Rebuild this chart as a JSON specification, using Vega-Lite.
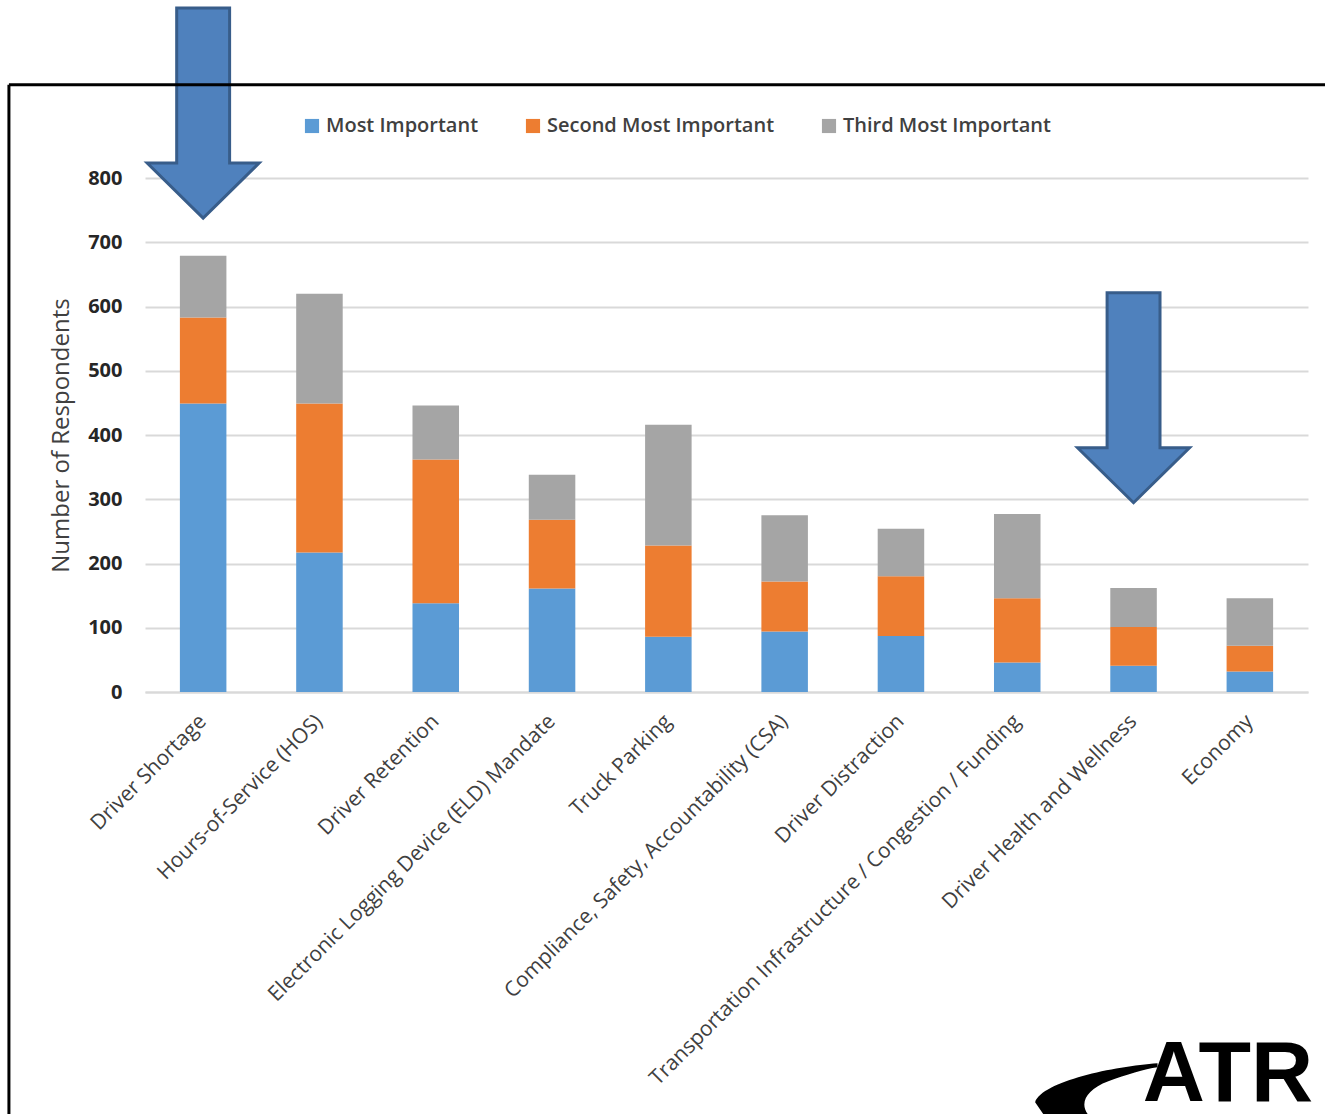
{
  "$schema": "https://vega.github.io/schema/vega-lite/v6.json",
  "width": 1163,
  "height": 514,
  "autosize": {"type": "none"},
  "padding": {"left": 145, "top": 178, "right": 17, "bottom": 422},
  "background": "white",
  "config": {"view": {"stroke": null}, "font": "Open Sans"},
  "datasets": {
    "bars": [
      {"Issue": "Driver Shortage", "Priority": "Most Important", "Respondents": 449},
      {"Issue": "Driver Shortage", "Priority": "Second Most Important", "Respondents": 134},
      {"Issue": "Driver Shortage", "Priority": "Third Most Important", "Respondents": 96},
      {"Issue": "Hours-of-Service (HOS)", "Priority": "Most Important", "Respondents": 217},
      {"Issue": "Hours-of-Service (HOS)", "Priority": "Second Most Important", "Respondents": 232},
      {"Issue": "Hours-of-Service (HOS)", "Priority": "Third Most Important", "Respondents": 171},
      {"Issue": "Driver Retention", "Priority": "Most Important", "Respondents": 138},
      {"Issue": "Driver Retention", "Priority": "Second Most Important", "Respondents": 224},
      {"Issue": "Driver Retention", "Priority": "Third Most Important", "Respondents": 84},
      {"Issue": "Electronic Logging Device (ELD) Mandate", "Priority": "Most Important", "Respondents": 161},
      {"Issue": "Electronic Logging Device (ELD) Mandate", "Priority": "Second Most Important", "Respondents": 107},
      {"Issue": "Electronic Logging Device (ELD) Mandate", "Priority": "Third Most Important", "Respondents": 70},
      {"Issue": "Truck Parking", "Priority": "Most Important", "Respondents": 86},
      {"Issue": "Truck Parking", "Priority": "Second Most Important", "Respondents": 142},
      {"Issue": "Truck Parking", "Priority": "Third Most Important", "Respondents": 188},
      {"Issue": "Compliance, Safety, Accountability (CSA)", "Priority": "Most Important", "Respondents": 94},
      {"Issue": "Compliance, Safety, Accountability (CSA)", "Priority": "Second Most Important", "Respondents": 78},
      {"Issue": "Compliance, Safety, Accountability (CSA)", "Priority": "Third Most Important", "Respondents": 103},
      {"Issue": "Driver Distraction", "Priority": "Most Important", "Respondents": 87},
      {"Issue": "Driver Distraction", "Priority": "Second Most Important", "Respondents": 93},
      {"Issue": "Driver Distraction", "Priority": "Third Most Important", "Respondents": 74},
      {"Issue": "Transportation Infrastructure / Congestion / Funding", "Priority": "Most Important", "Respondents": 46},
      {"Issue": "Transportation Infrastructure / Congestion / Funding", "Priority": "Second Most Important", "Respondents": 100},
      {"Issue": "Transportation Infrastructure / Congestion / Funding", "Priority": "Third Most Important", "Respondents": 131},
      {"Issue": "Driver Health and Wellness", "Priority": "Most Important", "Respondents": 41},
      {"Issue": "Driver Health and Wellness", "Priority": "Second Most Important", "Respondents": 60},
      {"Issue": "Driver Health and Wellness", "Priority": "Third Most Important", "Respondents": 61},
      {"Issue": "Economy", "Priority": "Most Important", "Respondents": 32},
      {"Issue": "Economy", "Priority": "Second Most Important", "Respondents": 40},
      {"Issue": "Economy", "Priority": "Third Most Important", "Respondents": 74}
    ],
    "arrows": [
      {"Issue": "Driver Shortage", "y": 901},
      {"Issue": "Driver Health and Wellness", "y": 458}
    ],
    "frame": [
      {"x": -0.117, "x2": 1.03, "y": 945, "y2": 945},
      {"x": -0.117, "x2": -0.117, "y": 945, "y2": -720}
    ],
    "logo": [{"x": 0.858, "y": -637, "text": "ATR"}],
    "swoosh": [{"x": 0.818, "y": -615}]
  },
  "layer": [
    {
      "layer": [
        {
          "data": {"name": "bars"},
          "mark": {"type": "bar"},
          "encoding": {
            "x": {
              "field": "Issue", "type": "nominal", "sort": null,
              "scale": {"paddingInner": 0.6, "paddingOuter": 0.3},
              "axis": {
                "title": null, "labelAngle": -45, "labelFontSize": 21, "labelColor": "#404040",
                "labelAlign": "right", "labelBaseline": "middle",
                "domainColor": "#D9D9D9", "domainWidth": 2, "ticks": false, "labelPadding": 26, "labelLimit": 1000
              }
            },
            "y": {
              "field": "Respondents", "type": "quantitative", "stack": "zero",
              "scale": {"domain": [0, 800], "nice": false},
              "axis": {
                "title": "Number of Respondents", "titleFontSize": 24, "titleFontWeight": "normal", "titleColor": "#404040",
                "titlePadding": 14, "values": [0, 100, 200, 300, 400, 500, 600, 700, 800],
                "labelFontSize": 20, "labelFontWeight": "bold", "labelColor": "#262626", "labelPadding": 23,
                "ticks": false, "domain": false, "gridColor": "#D9D9D9", "gridWidth": 2
              }
            },
            "color": {
              "field": "Priority", "type": "nominal",
              "scale": {"domain": ["Most Important", "Second Most Important", "Third Most Important"], "range": ["#5B9BD5", "#ED7D31", "#A5A5A5"]},
              "legend": {
                "orient": "none", "legendX": 157, "legendY": -62, "direction": "horizontal", "title": null,
                "symbolType": "square", "symbolSize": 200, "symbolStrokeWidth": 0, "labelFontSize": 20, "labelFontWeight": 600,
                "labelColor": "#404040", "columnPadding": 44, "labelOffset": 4, "labelLimit": 1000
              }
            },
            "order": {"field": "Priority", "type": "ordinal", "sort": "ascending"}
          }
        },
        {
          "data": {"name": "arrows"},
          "mark": {"type": "point", "shape": "M-0.252,-1 L0.252,-1 L0.252,0.476 L0.533,0.476 L0,1 L-0.533,0.476 L-0.252,0.476 Z", "size": 44100, "filled": true, "fill": "#4F81BD", "stroke": "#385D8A", "strokeWidth": 3, "opacity": 1},
          "encoding": {
            "x": {"field": "Issue", "type": "nominal", "sort": null},
            "y": {"field": "y", "type": "quantitative", "scale": {"domain": [0, 800], "nice": false}}
          }
        }
      ]
    },
    {
      "layer": [
        {
          "data": {"name": "frame"},
          "mark": {"type": "rule", "color": "black", "strokeWidth": 3},
          "encoding": {
            "x": {"field": "x", "type": "quantitative", "scale": {"domain": [0, 1], "nice": false, "zero": false}, "axis": null},
            "x2": {"field": "x2"},
            "y": {"field": "y", "type": "quantitative", "scale": {"domain": [0, 800], "nice": false}},
            "y2": {"field": "y2"}
          }
        },
        {
          "data": {"name": "swoosh"},
          "mark": {"type": "point", "shape": "M1.02,-0.4 C0.3,-0.35 -0.9,-0.1 -1.02,0.25 L-0.85,0.5 L-0.1,0.5 C-0.3,0.3 -0.2,0.05 0.2,-0.1 C0.5,-0.2 0.8,-0.3 1.02,-0.33 Z", "size": 14400, "filled": true, "color": "black", "opacity": 1},
          "encoding": {
            "x": {"field": "x", "type": "quantitative", "axis": null},
            "y": {"field": "y", "type": "quantitative"}
          }
        },
        {
          "data": {"name": "logo"},
          "mark": {"type": "text", "align": "left", "baseline": "alphabetic", "font": "Liberation Sans", "fontWeight": "bold", "fontSize": 86, "color": "black"},
          "encoding": {
            "x": {"field": "x", "type": "quantitative", "axis": null},
            "y": {"field": "y", "type": "quantitative"},
            "text": {"field": "text"}
          }
        }
      ]
    }
  ],
  "resolve": {"scale": {"x": "independent"}, "axis": {"x": "independent"}}
}
